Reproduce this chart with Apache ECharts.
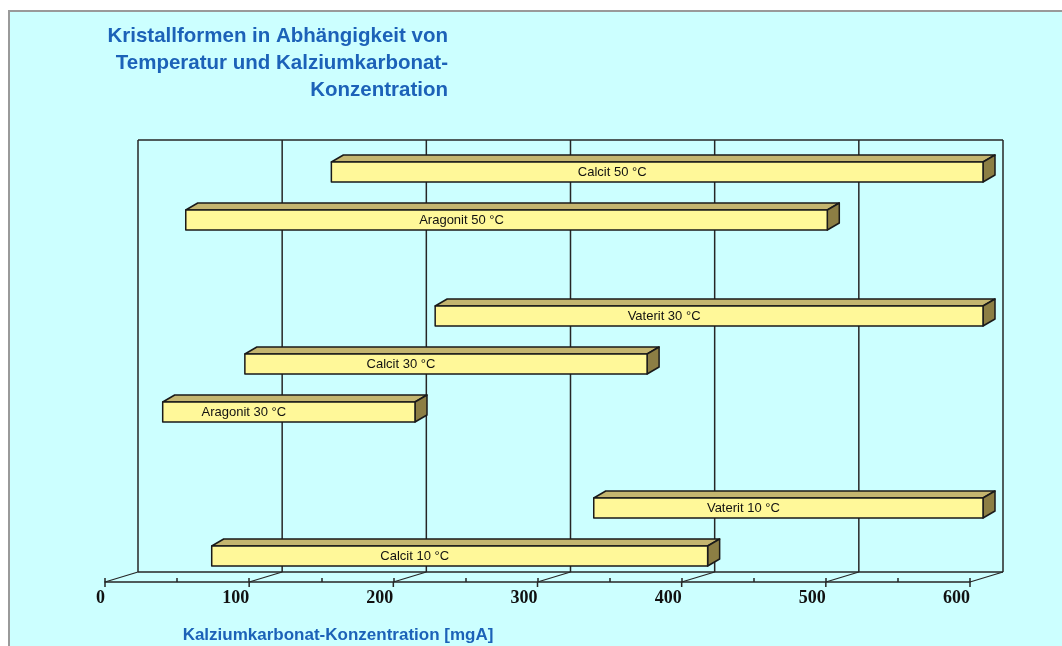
<!DOCTYPE html>
<html>
<head>
<meta charset="utf-8">
<script src="https://cdn.jsdelivr.net/npm/echarts@6/dist/echarts.min.js"></script>
<style>html,body{margin:0;padding:0;background:#fff;}#c{width:1062px;height:646px;}</style>
</head>
<body>
<div id="c"></div>
<script>
// rows from top to bottom ('' = empty slot)
const rows = ['Calcit 50 °C', 'Aragonit 50 °C', '', 'Vaterit 30 °C', 'Calcit 30 °C', 'Aragonit 30 °C', '', 'Vaterit 10 °C', 'Calcit 10 °C'];
const startValues = [148, 47, null, 220, 88, 31, null, 330, 65];
const endValues   = [600, 492, null, 600, 367, 206, null, 600, 409];
const ticks = [0, 100, 200, 300, 400, 500, 600];
const titleText = 'Kristallformen in Abhängigkeit von\nTemperatur und Kalziumkarbonat-\nKonzentration';
const axisTitle = 'Kalziumkarbonat-Konzentration [mgA]';

const BACK = [33, -10];   // depth offset of back wall
const BAR = [13, -2];     // bar plane offset
const DEPTH = [12, -7];   // bar depth
const LINE = '#262626';

const barData = [];
rows.forEach((r, i) => {
  if (startValues[i] != null) barData.push([startValues[i], endValues[i], i, r]);
});

const chart = echarts.init(document.getElementById('c'));
chart.setOption({
  backgroundColor: '#ffffff',
  animation: false,
  graphic: [{
    type: 'rect', z: -10, silent: true,
    shape: { x: 9, y: 11, width: 1080, height: 660 },
    style: { fill: '#ccffff', stroke: '#9a9a9a', lineWidth: 2 }
  }],
  title: [{
    text: titleText, left: 448, top: 23, textAlign: 'right', padding: 0,
    textStyle: { color: '#1c62b8', fontSize: 20.5, fontWeight: 'bold', fontFamily: 'Liberation Sans', lineHeight: 27 }
  }, {
    text: axisTitle, left: 338, top: 625, textAlign: 'center', padding: 0,
    textStyle: { color: '#1c62b8', fontSize: 17, fontWeight: 'bold', fontFamily: 'Liberation Sans', lineHeight: 20 }
  }],
  grid: { left: 105, right: 92, top: 150, bottom: 64 },
  xAxis: {
    type: 'value', min: 0, max: 600, interval: 100,
    splitLine: { show: false },
    axisLine: { show: true, lineStyle: { color: LINE, width: 1.5 } },
    axisTick: { show: true, inside: true, length: 4, lineStyle: { color: LINE, width: 1.5 } },
    minorTick: { show: true, splitNumber: 2, length: 4, lineStyle: { color: LINE, width: 1.5 } },
    axisLabel: {
      align: 'right', margin: 7, color: '#111',
      fontFamily: 'Liberation Serif', fontWeight: 'bold', fontSize: 18
    }
  },
  yAxis: {
    type: 'category', data: rows, inverse: true, show: false
  },
  series: [{
    type: 'custom', clip: false, z: 1,
    encode: { x: 0, y: 1 },
    data: ticks.map(t => [t, 0]),
    renderItem: function (params, api) {
      const cs = params.coordSys;
      const x = api.coord([api.value(0), 0])[0];
      const bottom = cs.y + cs.height;
      const top = cs.y;
      const ls = { stroke: LINE, lineWidth: 1.5 };
      const ch = [
        { type: 'line', shape: { x1: x, y1: bottom, x2: x + BACK[0], y2: bottom + BACK[1] }, style: { stroke: LINE, lineWidth: 1.2 } },
        { type: 'line', shape: { x1: x + BACK[0], y1: bottom + BACK[1], x2: x + BACK[0], y2: top + BACK[1] }, style: ls },
        { type: 'line', shape: { x1: x, y1: bottom, x2: x, y2: bottom + 5 }, style: ls }
      ];
      if (params.dataIndex === 0) {
        const xe = api.coord([ticks[ticks.length - 1], 0])[0];
        ch.push({ type: 'line', shape: { x1: x + BACK[0], y1: top + BACK[1], x2: xe + BACK[0], y2: top + BACK[1] }, style: ls });
        ch.push({ type: 'line', shape: { x1: x + BACK[0], y1: bottom + BACK[1], x2: xe + BACK[0], y2: bottom + BACK[1] }, style: ls });
      }
      return { type: 'group', children: ch };
    }
  }, {
    type: 'custom', clip: false, z: 3,
    encode: { x: [0, 1], y: 2 },
    data: barData,
    renderItem: function (params, api) {
      const p1 = api.coord([api.value(0), api.value(2)]);
      const p2 = api.coord([api.value(1), api.value(2)]);
      const x1 = p1[0] + BAR[0], x2 = p2[0] + BAR[0], cy = p1[1] + BAR[1];
      const yt = cy - 10, yb = cy + 10;
      const dx = DEPTH[0], dy = DEPTH[1];
      const label = barData[params.dataIndex][3];
      const st = { stroke: '#1a1a1a', lineWidth: 1.5, lineJoin: 'round' };
      return {
        type: 'group',
        children: [
          { type: 'polygon', shape: { points: [[x1, yt], [x1 + dx, yt + dy], [x2 + dx, yt + dy], [x2, yt]] },
            style: Object.assign({ fill: '#c4b56f' }, st) },
          { type: 'polygon', shape: { points: [[x2, yt], [x2 + dx, yt + dy], [x2 + dx, yb + dy], [x2, yb]] },
            style: Object.assign({ fill: '#8c7e44' }, st) },
          { type: 'rect', shape: { x: x1, y: yt, width: x2 - x1, height: yb - yt },
            style: Object.assign({ fill: '#fff899' }, st) },
          { type: 'text', style: { text: label, x: (x1 + x2) / 2 - 45, y: cy, align: 'center', verticalAlign: 'middle',
            fontSize: 13, fontFamily: 'Liberation Sans', fill: '#111' } }
        ]
      };
    }
  }]
});
</script>
</body>
</html>
